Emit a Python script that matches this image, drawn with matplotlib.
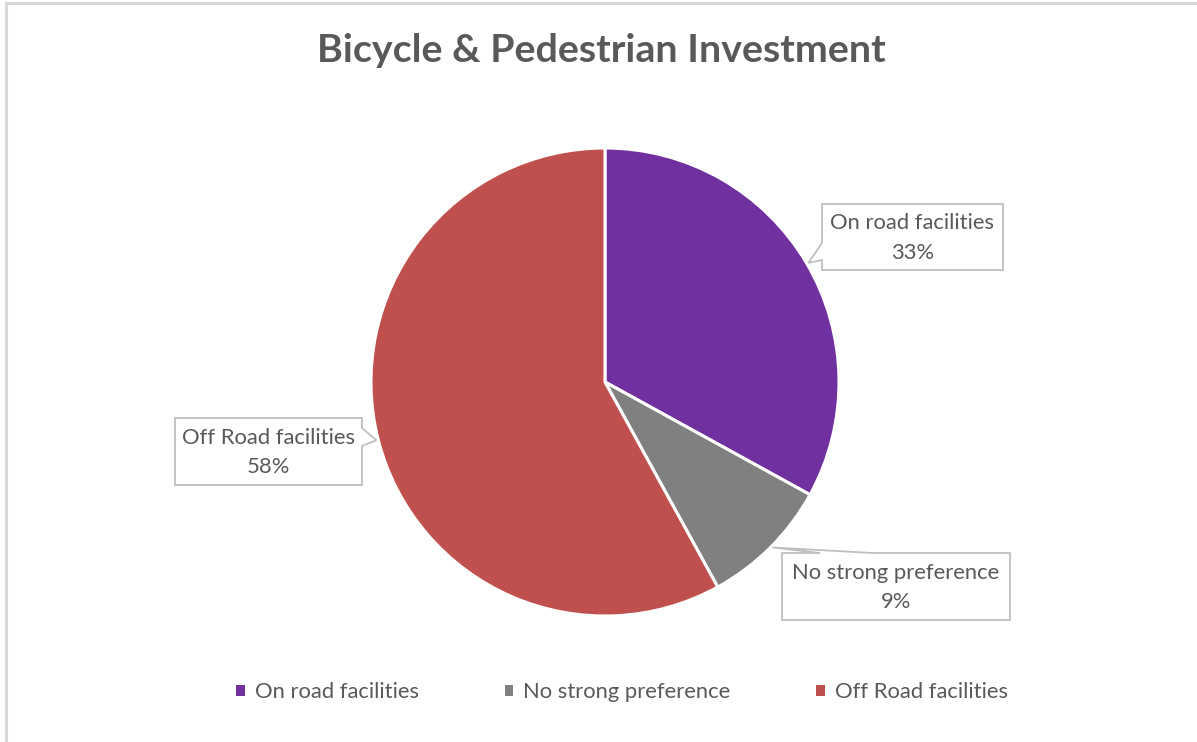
import numpy as np
import matplotlib.pyplot as plt
from matplotlib.patches import Polygon, Rectangle, Patch

# data
categories = ["On road facilities", "No strong preference", "Off Road facilities"]
shares = [33, 9, 58]
colors = ["#7030A0", "#808080", "#C0504D"]

W, H = 1197, 742
TXT = "#595959"
FONT = "Lato"

# callout boxes in pixel coords (left, top, right, bottom), image y downwards
boxes = [(822, 204, 1003, 270), (782, 553, 1010, 620), (175, 418, 362, 485)]
# side of box the pointer leaves from and the span of its base on that side
pointer = [("left", 243, 260), ("top", 820, 873), ("right", 428, 446)]

fig = plt.figure(figsize=(W / 100, H / 100), dpi=100)
ax = fig.add_axes([0, 0, 1, 1])

# outer chart frame (only top and left visible in the crop)
ax.add_patch(Rectangle((6, -20), W + 20, H - 3 + 20, fill=False,
                       ec="#D9D9D9", lw=2.2))

cx, cy, r = 605, H - 382, 234
wedges, _ = ax.pie(shares, colors=colors, startangle=90, counterclock=False,
                   center=(cx, cy), radius=r, frame=True,
                   wedgeprops=dict(edgecolor="white", linewidth=2.2))
ax.set_xlim(0, W)
ax.set_ylim(0, H)
ax.set_aspect("equal")
ax.axis("off")

for w, name, v, (l, t, rr, b), (side, p0, p1) in zip(wedges, categories, shares, boxes, pointer):
    mid = np.deg2rad((w.theta1 + w.theta2) / 2)
    tip = (cx + r * np.cos(mid) + (2 if side != "right" else -2),
           cy + r * np.sin(mid))
    T, B = H - t, H - b
    if side == "left":
        pts = [(l, T), (rr, T), (rr, B), (l, B), (l, H - p1), tip, (l, H - p0)]
    elif side == "right":
        pts = [(l, T), (l, B), (rr, B), (rr, H - p1), tip, (rr, H - p0), (rr, T)]
    else:
        pts = [(l, T), (p0, T), tip, (p1, T), (rr, T), (rr, B), (l, B)]
    ax.add_patch(Polygon(pts, closed=True, fc="white", ec="#BFBFBF", lw=1.3, zorder=5))
    ax.text((l + rr) / 2, (T + B) / 2 - 1, f"{name}\n{v}%", ha="center", va="center",
            fontsize=15.8, color=TXT, family=FONT, linespacing=1.6, zorder=6)

ax.text(W / 2 + 3, H - 51, "Bicycle & Pedestrian Investment", ha="center", va="center",
        fontsize=28.4, fontweight="bold", color=TXT, family=FONT)

handles = [Patch(fc=c, ec="none") for c in colors]
fig.legend(handles, categories, loc="center", bbox_to_anchor=(622 / W, 1 - 692 / H),
           ncol=3, frameon=False, handlelength=0.4, handleheight=0.4,
           handletextpad=0.45, columnspacing=3.9,
           prop=dict(family=FONT, size=15.8), labelcolor=TXT)

fig.savefig("out.png", dpi=100)
